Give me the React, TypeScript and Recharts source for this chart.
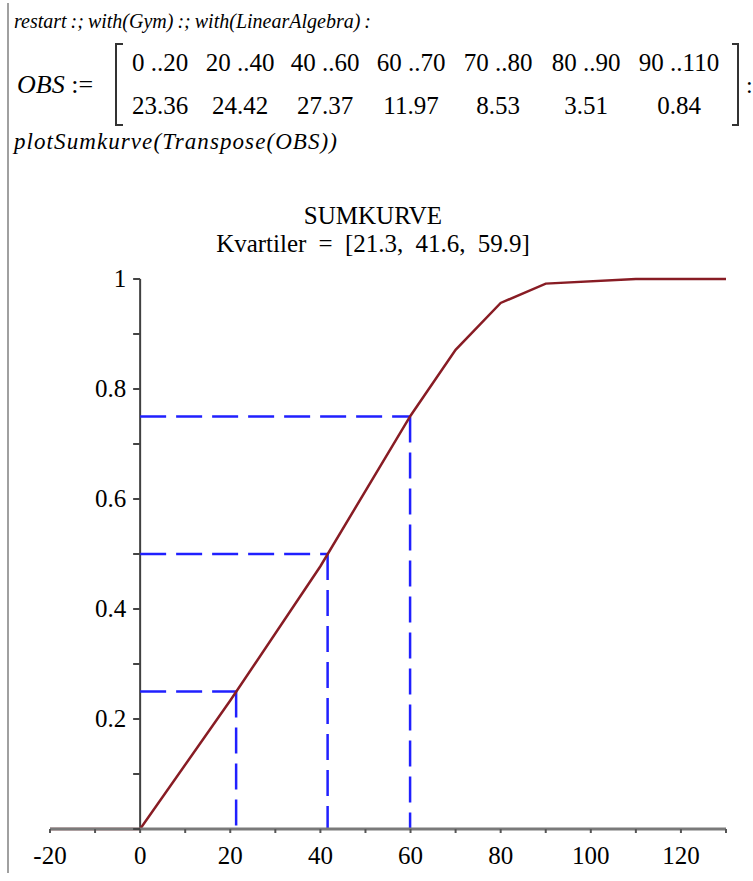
import React from 'react';
import { LineChart, Line, XAxis, YAxis, ReferenceLine } from 'recharts';

// Class intervals and frequencies (%) as typed in the worksheet
const INTERVALS = ['0 ..20', '20 ..40', '40 ..60', '60 ..70', '70 ..80', '80 ..90', '90 ..110'];
const FREQUENCIES = ['23.36', '24.42', '27.37', '11.97', '8.53', '3.51', '0.84'];

// Cumulative curve
const X_VALUES = [-20, 0, 20, 40, 60, 70, 80, 90, 110, 130];
const CUM_FREQ = [0, 0, 0.2336, 0.4778, 0.7515, 0.8712, 0.9565, 0.9916, 1, 1];

// Quartiles
const QUARTILES = [21.3, 41.6, 59.9];
const QUARTILE_LEVELS = [0.25, 0.5, 0.75];

const X_TICKS = [-20, -10, 0, 10, 20, 30, 40, 50, 60, 70, 80, 90, 100, 110, 120, 130];
const X_LABELS = [-20, 0, 20, 40, 60, 80, 100, 120];
const Y_TICKS = [0, 0.1, 0.2, 0.3, 0.4, 0.5, 0.6, 0.7, 0.8, 0.9, 1];
const Y_LABELS = [0.2, 0.4, 0.6, 0.8, 1];

const W = 753;
const H = 881;
const MARGIN = { top: 279, right: 27, bottom: 12, left: 49 };
const Y_AXIS_W = 1;
const X_AXIS_H = 40;
const X_MIN = -20;
const X_MAX = 130;
const PLOT_LEFT = MARGIN.left + Y_AXIS_W;
const PLOT_W = W - PLOT_LEFT - MARGIN.right;
// pixel position of x = 0, where the y axis is drawn
const X0 = PLOT_LEFT + ((0 - X_MIN) / (X_MAX - X_MIN)) * PLOT_W;

const FONT = "'Liberation Serif', 'DejaVu Serif', serif";
const CURVE = '#881c24';
const DASH = '#2020ff';

const data = X_VALUES.map((x, i) => ({ x, y: CUM_FREQ[i] }));
const COL_X = [160, 240, 325, 411, 498, 586, 679];

const XTick = ({ x, y, payload }: any) => {
    const v = payload.value;
    return (
        <g>
            <line x1={x} x2={x} y1={y} y2={y + 4} stroke="#555" strokeWidth={2} />
            {X_LABELS.includes(v) && (
                <text x={x} y={y + 35} textAnchor="middle" fontSize={25} style={{ fontFamily: FONT }} fill="#000">
                    {v}
                </text>
            )}
        </g>
    );
};

const YTick = ({ y, payload }: any) => {
    const v = payload.value;
    const labelled = Y_LABELS.some((l) => Math.abs(l - v) < 1e-6);
    return (
        <g>
            <line x1={X0 - 7} x2={X0} y1={y} y2={y} stroke="#444" strokeWidth={2} />
            {labelled && (
                <text x={X0 - 14} y={y + 8} textAnchor="end" fontSize={25} style={{ fontFamily: FONT }} fill="#000">
                    {v}
                </text>
            )}
        </g>
    );
};

export default function App() {
    return (
        <div style={{ position: 'absolute', left: 0, top: 0, width: W, height: H, background: '#fff', fontFamily: FONT }}>
            <div style={{ position: 'absolute', left: 7, top: 3, width: 2, height: 870, background: '#a0a0a0' }} />
            <svg width={W} height={H} style={{ position: 'absolute', left: 0, top: 0, fontFamily: FONT }}>
                <text x={14} y={28} fontSize={20} fontStyle="italic" wordSpacing={-1}>
                    restart :; with(Gym) :; with(LinearAlgebra) :
                </text>
                <text x={17} y={93} fontSize={26} fontStyle="italic">
                    OBS <tspan fontStyle="normal">:=</tspan>
                </text>
                <path d="M123 44 H116 V125 H123" fill="none" stroke="#333" strokeWidth={2} />
                <path d="M732 44 H738 V125 H732" fill="none" stroke="#333" strokeWidth={2} />
                <text x={746} y={93} fontSize={24}>:</text>
                {INTERVALS.map((s, i) => (
                    <text key={s} x={COL_X[i]} y={71} fontSize={25} textAnchor="middle">
                        {s}
                    </text>
                ))}
                {FREQUENCIES.map((s, i) => (
                    <text key={s} x={COL_X[i]} y={114} fontSize={25} textAnchor="middle">
                        {s}
                    </text>
                ))}
                <text x={14} y={149} fontSize={23} fontStyle="italic" textLength={323} lengthAdjust="spacing">
                    plotSumkurve(Transpose(OBS))
                </text>
                <text x={373} y={224} fontSize={25} textAnchor="middle">SUMKURVE</text>
                <text x={373} y={252} fontSize={25} textAnchor="middle" wordSpacing={6}>
                    Kvartiler = [21.3, 41.6, 59.9]
                </text>
            </svg>
            <div style={{ position: 'absolute', left: 0, top: 0 }}>
                <LineChart width={W} height={H} data={data} margin={MARGIN}>
                    <XAxis
                        type="number"
                        dataKey="x"
                        domain={[X_MIN, X_MAX]}
                        ticks={X_TICKS}
                        interval={0}
                        height={X_AXIS_H}
                        tickSize={0}
                        tickMargin={0}
                        tickLine={false}
                        axisLine={{ stroke: '#7a7a7a', strokeWidth: 3 }}
                        tick={<XTick />}
                    />
                    <YAxis
                        type="number"
                        domain={[0, 1]}
                        ticks={Y_TICKS}
                        interval={0}
                        width={Y_AXIS_W}
                        tickSize={0}
                        tickMargin={0}
                        tickLine={false}
                        axisLine={false}
                        tick={<YTick />}
                    />
                    <ReferenceLine x={0} stroke="#404040" strokeWidth={2} />
                    {QUARTILES.map((q, i) => (
                        <ReferenceLine
                            key={'h' + q}
                            segment={[{ x: 0, y: QUARTILE_LEVELS[i] }, { x: q, y: QUARTILE_LEVELS[i] }]}
                            stroke={DASH}
                            strokeWidth={2.5}
                            strokeDasharray="26 10"
                        />
                    ))}
                    {QUARTILES.map((q, i) => (
                        <ReferenceLine
                            key={'v' + q}
                            segment={[{ x: q, y: QUARTILE_LEVELS[i] }, { x: q, y: 0 }]}
                            stroke={DASH}
                            strokeWidth={2.5}
                            strokeDasharray="26 10"
                        />
                    ))}
                    <Line
                        type="linear"
                        dataKey="y"
                        stroke={CURVE}
                        strokeWidth={2.5}
                        dot={false}
                        isAnimationActive={false}
                    />
                </LineChart>
            </div>
        </div>
    );
}
